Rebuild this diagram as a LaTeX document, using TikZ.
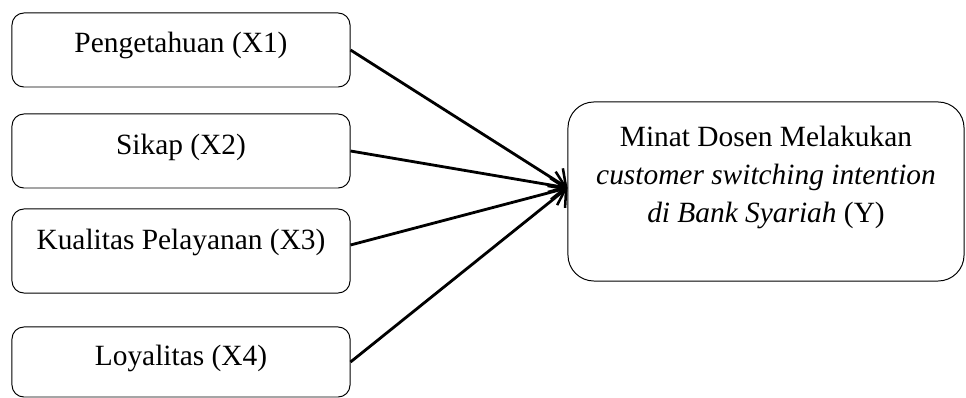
\documentclass[tikz,border=0pt]{standalone}
\usepackage{fontspec}
\setmainfont{Liberation Serif}
\usetikzlibrary{arrows.meta}

\tikzset{
  varbox/.style={draw, line width=0.7pt, rounded corners=0.3cm,
    minimum width=8.45cm, align=center, inner sep=0pt},
  depbox/.style={draw, line width=0.7pt, rounded corners=0.65cm,
    minimum width=9.9cm, minimum height=4.475cm, align=center, inner sep=0pt},
  link/.style={line width=2pt, -{Straight Barb[length=9pt, width=20pt, line width=1.8pt]}}
}

\begin{document}
\begin{tikzpicture}[x=0.025cm, y=-0.025cm, font=\fontsize{20.9}{27}\selectfont]
    \useasboundingbox (0, 0) rectangle (966, 398);

    % independent variables
    \node [varbox, minimum height=1.85cm, text depth=0.4cm] (x1) at (181, 50) {Pengetahuan (X1)};
    \node [varbox, minimum height=1.85cm, text depth=0.35cm] (x2) at (181, 151) {Sikap (X2)};
    \node [varbox, minimum height=2.1cm, text depth=0.6cm] (x3) at (181, 251) {Kualitas Pelayanan (X3)};
    \node [varbox, minimum height=1.75cm, text depth=0.35cm] (x4) at (181, 362) {Loyalitas (X4)};

    % dependent variable
    \node [depbox, text depth=0.85cm] (y) at (766, 191.5)
          {Minat Dosen Melakukan\\ \textit{customer switching intention}\\ \textit{di Bank Syariah} (Y)};

    % Edges
    \draw [link] (x1.east) -- ([yshift=0.09cm]y.west);
    \draw [link] (x2.east) -- ([yshift=0.09cm]y.west);
    \draw [link] ([yshift=0.15cm]x3.east) -- ([yshift=0.09cm]y.west);
    \draw [link] (x4.east) -- ([yshift=0.09cm]y.west);
\end{tikzpicture}
\end{document}
